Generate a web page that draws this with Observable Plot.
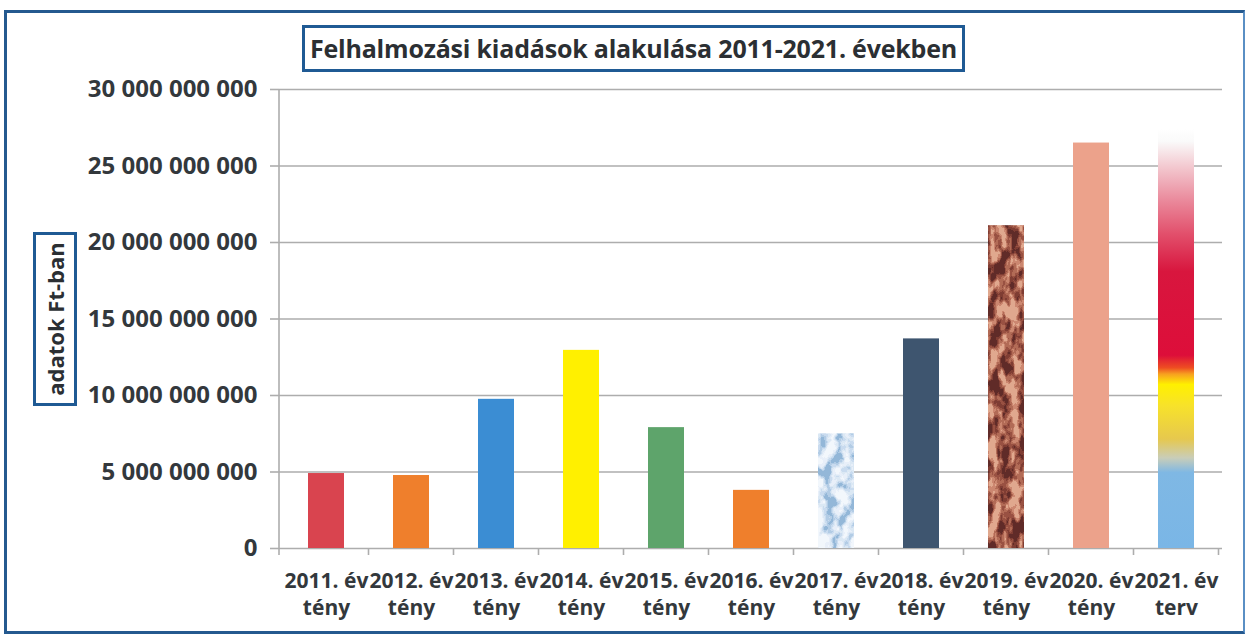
<!DOCTYPE html>
<html>
<head>
<meta charset="utf-8">
<script src="https://cdn.jsdelivr.net/npm/d3@7"></script>
<script src="https://cdn.jsdelivr.net/npm/@observablehq/plot@0.6"></script>
<style>
  html, body { margin: 0; padding: 0; background: #fff; }
  #wrap { position: relative; width: 1251px; height: 639px; overflow: hidden; font-family: "Open Sans", sans-serif; }
  #frame { position: absolute; left: 4px; top: 10px; width: 1236px; height: 618px; border: 3px solid #24598f; border-right-width: 2px; border-right-color: #5a8fc4; }
  #title { position: absolute; left: 302px; top: 25px; width: 657px; height: 41px; border: 3px solid #1f5a94; background: #fff;
           font-weight: 700; font-size: 25px; line-height: 41px; text-align: center; color: #2b2f33; letter-spacing: -0.2px; z-index: 2; white-space: nowrap; }
  #ylabel { position: absolute; left: 33px; top: 232px; width: 38px; height: 168px; border: 3px solid #1f5a94; background: #fff; z-index: 2; }
  #ylabel span { position: absolute; left: 50%; top: 50%; transform: translate(-50%, -50%) rotate(-90deg); font-weight: 700; font-size: 22px; color: #2b2f33; white-space: nowrap; }
  #chart { position: absolute; left: 0; top: 0; z-index: 1; }
</style>
</head>
<body>
<div id="wrap">
  <div id="frame"></div>
  <div id="chart"></div>
  <div id="title">Felhalmozási kiadások alakulása 2011-2021. években</div>
  <div id="ylabel"><span>adatok Ft-ban</span></div>
</div>
<script>
// ---- data ----
const years = ["2011. év", "2012. év", "2013. év", "2014. év", "2015. év", "2016. év", "2017. év", "2018. év", "2019. év", "2020. év", "2021. év"];
const status = ["tény", "tény", "tény", "tény", "tény", "tény", "tény", "tény", "tény", "tény", "terv"];
const values = [4.9e9, 4.77e9, 9.75e9, 12.95e9, 7.9e9, 3.8e9, 7.5e9, 13.7e9, 21.1e9, 26.5e9, 27.4e9];
const yTicks = [0, 5e9, 10e9, 15e9, 20e9, 25e9, 30e9];

// ---- styles (kept apart from data) ----
const barFills = ["#d9444f", "#ef7f2c", "#3b8dd3", "#fff000", "#5ea46b", "#ef7f2c", "url(#ice)", "#3e556f", "url(#camo)", "#eca28b", "url(#g2021)"];

const labels = years.map((y, i) => y + "\n" + status[i]);
const rows = labels.map((c, i) => ({cat: c, value: values[i], fill: barFills[i]}));

const locale = d3.formatLocale({decimal: ",", thousands: " ", grouping: [3], currency: ["", ""]});
const fmt = locale.format(",");
const gridColor = "#adadad";

const plot = Plot.plot({
  width: 1251,
  height: 639,
  marginLeft: 279,
  marginRight: 29,
  marginTop: 89,
  marginBottom: 91,
  style: {fontFamily: "Open Sans", fontWeight: "700", color: "#33383c", background: "transparent", overflow: "visible"},
  x: {domain: labels, paddingInner: 0.58, paddingOuter: 0.29},
  y: {domain: [0, 30e9]},
  color: {type: "identity"},
  marks: [
    Plot.ruleY(yTicks, {stroke: gridColor, strokeWidth: 1.6}),
    Plot.axisY({ticks: yTicks, tickFormat: fmt, tickSize: 9, tickPadding: 13, fontSize: 24, stroke: gridColor, strokeWidth: 1.6, label: null}),
    Plot.axisX({tickSize: 0, tickPadding: 20, fontSize: 21, lineHeight: 1.3, label: null}),
    Plot.barY(rows, {x: "cat", y: "value", fill: "fill"})
  ]
});

document.getElementById("chart").appendChild(plot);

// defs: textures and gradient
const svg = d3.select(plot);
const defs = svg.insert("defs", ":first-child");

function noiseTexture(id, freq, seed, r, g, b) {
  const f = defs.append("filter").attr("id", id + "F").attr("filterUnits", "userSpaceOnUse")
    .attr("x", 0).attr("y", 0).attr("width", 1251).attr("height", 639)
    .attr("color-interpolation-filters", "sRGB");
  f.append("feTurbulence").attr("type", "fractalNoise").attr("baseFrequency", freq).attr("numOctaves", 3).attr("seed", seed).attr("result", "n");
  f.append("feColorMatrix").attr("type", "matrix")
    .attr("values", "3 0 0 0 -1  3 0 0 0 -1  3 0 0 0 -1  0 0 0 0 1");
  const ct = f.append("feComponentTransfer");
  ct.append("feFuncR").attr("type", "discrete").attr("tableValues", r);
  ct.append("feFuncG").attr("type", "discrete").attr("tableValues", g);
  ct.append("feFuncB").attr("type", "discrete").attr("tableValues", b);
  const p = defs.append("pattern").attr("id", id).attr("patternUnits", "userSpaceOnUse")
    .attr("x", 0).attr("y", 0).attr("width", 1251).attr("height", 639);
  p.append("rect").attr("width", 1251).attr("height", 639).attr("fill", "#fff").attr("filter", `url(#${id}F)`);
}
// brown camouflage (2019)
noiseTexture("camo", "0.10 0.05", 11,
  "0.38 0.50 0.60 0.70 0.80 0.88",
  "0.17 0.24 0.32 0.42 0.53 0.66",
  "0.16 0.20 0.26 0.34 0.44 0.56");
// pale blue mottled (2017)
noiseTexture("ice", "0.08 0.06", 4,
  "0.58 0.70 0.79 0.86 0.91 0.95",
  "0.72 0.80 0.86 0.91 0.94 0.97",
  "0.85 0.90 0.94 0.96 0.98 0.99");

const lg = defs.append("linearGradient").attr("id", "g2021").attr("x1", 0).attr("y1", 1).attr("x2", 0).attr("y2", 0);
[
  [0.00, "#7ab6e6"], [0.18, "#7fb8e4"], [0.215, "#c9cdb8"], [0.26, "#e6c84e"], [0.34, "#f7e22a"],
  [0.39, "#fff000"], [0.415, "#f7a020"], [0.43, "#ee4d22"], [0.46, "#dd0e3a"], [0.66, "#d8163e"],
  [0.75, "#e2506c"], [0.83, "#ea8a9c"], [0.91, "#f3c9d0"], [0.97, "#fafafa"], [1.0, "#ffffff"]
].forEach(([o, c]) => lg.append("stop").attr("offset", o).attr("stop-color", c));

// axis line and category boundary ticks, from the plot's own scales
const xs = plot.scale("x"), ys = plot.scale("y");
const x0 = xs.range[0];
const yTop = ys.apply(30e9), yBase = ys.apply(0);
const g = svg.append("g").attr("stroke", gridColor).attr("stroke-width", 1.6);
g.append("line").attr("x1", x0).attr("x2", x0).attr("y1", yTop).attr("y2", yBase + 7);
labels.forEach((c) => {
  const xb = xs.apply(c) + xs.bandwidth / 2 + xs.step / 2;
  g.append("line").attr("x1", xb).attr("x2", xb).attr("y1", yBase).attr("y2", yBase + 7);
});
</script>
</body>
</html>
